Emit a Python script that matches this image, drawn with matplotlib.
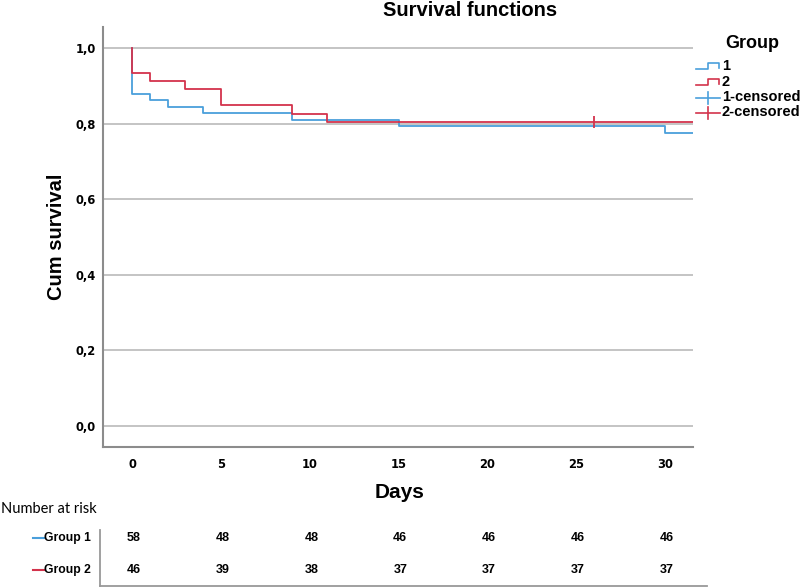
import matplotlib
matplotlib.use('Agg')
import matplotlib.pyplot as plt
import matplotlib.transforms as mtransforms
from matplotlib.lines import Line2D

# survival step data
g1_days = [0, 0, 1, 2, 4, 9, 15, 30, 31.6]
g1_surv = [1.0, 0.879, 0.862, 0.845, 0.828, 0.810, 0.793, 0.776, 0.776]
g2_days = [0, 0, 1, 3, 5, 9, 11, 31.6]
g2_surv = [1.0, 0.935, 0.913, 0.891, 0.848, 0.826, 0.804, 0.804]
g2_censor_days = [26]
g2_censor_surv = [0.804]

risk_days = [0, 5, 10, 15, 20, 25, 30]
risk_g1 = [58, 48, 48, 46, 46, 46, 46]
risk_g2 = [46, 39, 38, 37, 37, 37, 37]

blue = '#4A9FDB'
red = '#D3334C'
W, H = 800, 588

plt.rcParams['font.family'] = ['Liberation Sans', 'DejaVu Sans']

fig = plt.figure(figsize=(8, 5.88), dpi=100)
ax = fig.add_axes([103/W, 1 - 447/H, 590/W, 420/H])

ax.step(g1_days, g1_surv, where='post', color=blue, lw=1.3)
ax.step(g2_days, g2_surv, where='post', color=red, lw=1.3)
ax.plot(g2_censor_days, g2_censor_surv, marker='|', ms=9, mew=1.3, color=red, ls='none')

ax.set_xlim(-1.63, 31.57)
ax.set_ylim(-0.0556, 1.0556)
ax.set_yticks([0, 0.2, 0.4, 0.6, 0.8, 1.0])
ax.set_yticklabels(['0,0', '0,2', '0,4', '0,6', '0,8', '1,0'])
ax.set_xticks(risk_days)
ax.tick_params(axis='y', length=0, pad=5)
ax.tick_params(axis='x', length=0, pad=8)
for lab in ax.get_xticklabels() + ax.get_yticklabels():
    lab.set_fontweight('bold')
    lab.set_family('DejaVu Sans')
    lab.set_fontsize(8.3)
ax.yaxis.grid(True, color='#C4C4C4', lw=1.4)
ax.set_axisbelow(True)
for s in ['top', 'right']:
    ax.spines[s].set_visible(False)
for s in ['left', 'bottom']:
    ax.spines[s].set_color('#8C8C8C')
    ax.spines[s].set_linewidth(1.5)

ax.set_ylabel('Cum survival', fontsize=14.5, fontweight='bold', labelpad=7)
fig.text(400/W, 1 - 492/H, 'Days', fontsize=15, fontweight='bold', ha='center', va='center')
fig.text(470/W, 1 - 11/H, 'Survival functions', fontsize=14.5, fontweight='bold', ha='center', va='center')

# legend drawn by hand
def fl(xs, ys, **kw):
    fig.add_artist(Line2D([x / W for x in xs], [1 - y / H for y in ys], **kw))

fig.text(752/W, 1 - 43/H, 'Group', fontsize=13, fontweight='bold', ha='center', va='center')
fl([696, 708, 708, 719, 719], [69, 69, 63, 63, 68], color=blue, lw=1.2)
fl([696, 708, 708, 719, 719], [85, 85, 79, 79, 84], color=red, lw=1.2)
fl([696, 720], [98, 98], color=blue, lw=1.2)
fl([708, 708], [92, 104], color=blue, lw=1.2)
fl([696, 720], [113, 113], color=red, lw=1.2)
fl([708, 708], [107, 119], color=red, lw=1.2)
for y, t in [(66, '1'), (82, '2'), (97, '1-censored'), (112, '2-censored')]:
    fig.text(722/W, 1 - y/H, t, fontsize=10.5, fontweight='bold', ha='left', va='center')

# number at risk table
fig.text(1/W, 1 - 509/H, 'Number at risk', fontsize=10.5, family=['Lato', 'DejaVu Sans'],
         ha='left', va='center')
fl([100, 100], [530, 586], color='#999999', lw=1.3)
fl([100, 707], [586, 586], color='#999999', lw=1.3)
fl([33, 44], [538, 538], color=blue, lw=1.5)
fl([33, 44], [570, 570], color=red, lw=1.5)
fig.text(91/W, 1 - 538/H, 'Group 1', fontsize=8.7, fontweight='bold', ha='right', va='center')
fig.text(91/W, 1 - 570/H, 'Group 2', fontsize=8.7, fontweight='bold', ha='right', va='center')

trans = mtransforms.blended_transform_factory(ax.transData, fig.transFigure)
for d, a, b in zip(risk_days, risk_g1, risk_g2):
    ax.text(d + 0.1, 1 - 538/H, str(a), transform=trans, fontsize=9, fontweight='bold',
            ha='center', va='center', clip_on=False)
    ax.text(d + 0.1, 1 - 570/H, str(b), transform=trans, fontsize=9, fontweight='bold',
            ha='center', va='center', clip_on=False)

fig.savefig('out.png', dpi=100)
